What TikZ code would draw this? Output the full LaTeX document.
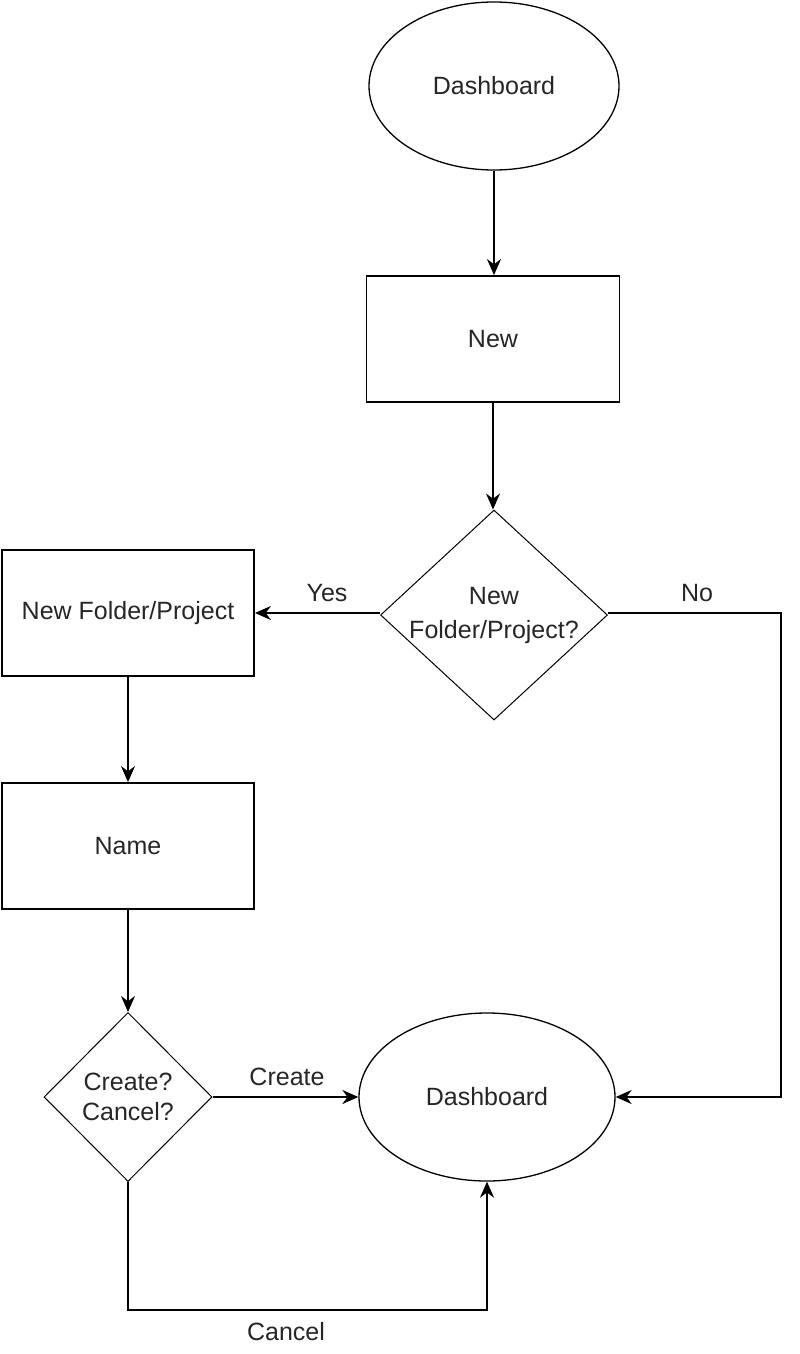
\documentclass[tikz,border=0pt]{standalone}
\usepackage{fontspec}
\setmainfont{Liberation Sans}
\usetikzlibrary{shapes.geometric,arrows.meta}
\begin{document}
\begin{tikzpicture}[x=1pt,y=-1pt,
  every node/.style={font=\fontsize{25}{30}\selectfont, text=black!85},
  boxnode/.style={draw, line width=1.8pt, rectangle, minimum width=252pt, minimum height=126pt, inner sep=0pt},
  ovalnode/.style={draw, line width=1.3pt, ellipse, inner sep=0pt},
  decnode/.style={draw, line width=1pt, diamond, inner sep=-20pt, align=center},
  conn/.style={line width=1.8pt, -{Stealth[length=16pt,width=14pt]}},
  lbl/.style={inner sep=0pt}
]
\useasboundingbox (0,0) rectangle (800,1354);
\node[ovalnode, minimum width=250pt, minimum height=168pt] (dash1) at (494,86) {Dashboard};
\node[boxnode, minimum width=253pt] (new) at (493,339) {New};
\node[decnode, minimum width=227pt, minimum height=210pt] (q1) at (494,615) {New\\[4pt]Folder/Project?};
\node[boxnode] (nfp) at (128,613) {New Folder/Project};
\node[boxnode] (name) at (128,846) {Name};
\node[decnode, minimum width=168pt, minimum height=169pt] (q2) at (128,1097) {Create?\\[0pt]Cancel?};
\node[ovalnode, minimum width=256pt, minimum height=168pt] (dash2) at (487,1097) {Dashboard};
\coordinate (noA) at (781,613);
\coordinate (noB) at (781,1097);
\coordinate (caA) at (128,1310);
\coordinate (caB) at (487,1310);

\draw[conn] (dash1.south) -- (dash1.south |- new.north);
\draw[conn] (new.south) -- (new.south |- q1.north);
\draw[conn] (q1.west |- nfp.east) -- (nfp.east);
\draw[conn] (q1.east |- noA) -- (noA) -- (noB) -- (dash2.east);
\draw[conn] (nfp.south) -- (name.north);
\draw[conn] (name.south) -- (q2.north);
\draw[conn] (q2.east) -- (dash2.west);
\draw[conn] (q2.south) -- (caA) -- (caB) -- (dash2.south);

\node[lbl] (yes) at (327,593) {Yes};
\node[lbl] (no) at (697,593) {No};
\node[lbl] (create) at (287,1077) {Create};
\node[lbl] (cancel) at (286,1332) {Cancel};
\end{tikzpicture}
\end{document}
